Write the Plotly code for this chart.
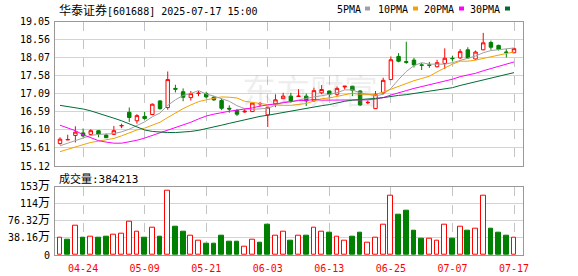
import plotly.graph_objects as go

# ---------------- data ----------------
dates = ["04-21","04-22","04-23","04-24","04-25","04-28","04-29","04-30",
         "05-06","05-07","05-08","05-09","05-12","05-13","05-14","05-15","05-16",
         "05-19","05-20","05-21","05-22","05-23","05-26","05-27","05-28","05-29","05-30",
         "06-03","06-04","06-05","06-06","06-09","06-10","06-11","06-12","06-13",
         "06-16","06-17","06-18","06-19","06-20","06-23","06-24","06-25","06-26","06-27","06-30",
         "07-01","07-02","07-03","07-04","07-07","07-08","07-09","07-10","07-11",
         "07-14","07-15","07-16","07-17"]

open_ = [15.73,15.83,15.95,16.02,15.98,16.08,15.96,15.98,16.21,16.58,
         16.35,16.47,16.52,16.89,16.71,17.23,17.14,16.98,17.09,17.09,
         16.99,16.90,16.69,16.63,16.59,16.60,16.81,16.51,16.81,16.95,
         17.02,17.01,17.02,16.89,17.11,17.16,17.07,17.27,17.29,17.16,
         16.84,16.68,17.11,17.47,18.10,17.96,18.00,17.87,17.87,17.82,
         17.91,18.05,18.06,18.28,18.03,18.28,18.48,18.40,18.22,18.20]
high = [15.90,15.97,16.20,16.14,16.12,16.10,16.00,16.21,16.27,16.71,
        16.53,16.59,16.82,16.91,17.69,17.33,17.23,17.16,17.16,17.14,
        17.02,16.96,16.77,16.67,16.66,16.84,16.86,16.73,17.07,17.11,
        17.11,17.21,17.09,17.25,17.32,17.17,17.28,17.29,17.30,17.18,
        16.90,17.16,17.52,18.10,18.19,18.50,18.06,17.92,17.95,18.01,
        18.32,18.12,18.30,18.35,18.26,18.74,18.53,18.42,18.30,18.33]
low = [15.70,15.82,15.76,15.90,15.96,15.90,15.88,15.96,16.15,16.32,
       16.27,16.38,16.50,16.65,16.65,17.12,16.88,16.90,17.02,16.96,
       16.89,16.64,16.57,16.48,16.57,16.59,16.73,16.18,16.72,16.94,
       16.84,17.00,16.75,16.87,17.07,16.98,17.02,17.20,17.02,16.75,
       16.80,16.67,17.07,17.47,17.94,17.90,17.80,17.73,17.79,17.80,
       17.76,17.97,18.03,18.03,18.01,18.27,18.28,18.26,18.07,18.19]
close = [15.85,15.84,16.04,15.94,16.08,15.99,15.89,16.08,16.22,16.44,
         16.49,16.41,16.80,16.68,17.47,17.21,16.99,17.09,17.10,17.00,
         16.92,16.69,16.67,16.53,16.61,16.83,16.82,16.72,16.92,17.02,
         16.89,17.02,16.89,17.17,17.20,17.07,17.23,17.29,17.18,16.78,
         16.85,17.07,17.45,18.01,17.97,17.94,17.87,17.86,17.86,17.93,
         18.05,18.04,18.23,18.06,18.22,18.47,18.35,18.29,18.21,18.31]

ma5 = [15.67,15.74,15.80,15.87,15.95,15.98,15.99,16.00,16.05,16.12,
       16.22,16.32,16.46,16.56,16.77,16.92,17.04,17.09,17.17,17.08,
       17.02,16.96,16.88,16.76,16.68,16.66,16.68,16.69,16.77,16.86,
       16.87,16.92,16.95,17.00,17.03,17.07,17.11,17.19,17.19,17.11,
       17.07,17.03,17.07,17.23,17.47,17.69,17.85,17.93,17.89,17.88,
       17.89,17.93,18.00,18.05,18.11,18.20,18.26,18.28,18.31,18.33]
ma10 = [15.51,15.58,15.65,15.70,15.76,15.80,15.83,15.87,15.94,16.03,
        16.10,16.15,16.23,16.31,16.44,16.57,16.68,16.78,16.87,16.92,
        16.97,17.00,16.99,16.97,16.88,16.84,16.82,16.79,16.77,16.77,
        16.77,16.80,16.82,16.89,16.95,16.97,17.01,17.07,17.10,17.07,
        17.07,17.07,17.13,17.21,17.29,17.38,17.44,17.50,17.56,17.68,
        17.79,17.89,17.97,17.97,18.00,18.05,18.10,18.14,18.18,18.22]
ma20 = [16.23,16.16,16.08,15.97,15.88,15.81,15.77,15.74,15.74,15.77,
        15.82,15.88,15.95,16.03,16.10,16.17,16.24,16.31,16.40,16.48,
        16.53,16.58,16.61,16.64,16.66,16.70,16.75,16.78,16.82,16.85,
        16.87,16.90,16.90,16.93,16.91,16.91,16.92,16.93,16.93,16.92,
        16.92,16.94,16.98,17.05,17.12,17.17,17.23,17.28,17.33,17.37,
        17.43,17.48,17.55,17.59,17.64,17.71,17.77,17.82,17.87,17.95]
ma30 = [16.77,16.74,16.71,16.67,16.62,16.56,16.49,16.42,16.35,16.27,
        16.18,16.10,16.06,16.04,16.03,16.03,16.04,16.06,16.09,16.13,
        16.18,16.23,16.28,16.33,16.38,16.43,16.47,16.50,16.54,16.58,
        16.61,16.65,16.68,16.72,16.76,16.79,16.84,16.88,16.91,16.92,
        16.93,16.96,16.98,17.02,17.04,17.06,17.09,17.12,17.14,17.17,
        17.21,17.25,17.31,17.36,17.41,17.47,17.52,17.57,17.61,17.66]

# volume in 万
volume = [39.5,33.5,66.3,38.0,41.7,38.0,40.2,46.2,48.4,75.2,
          51.4,38.0,61.8,40.2,143.0,62.5,51.4,43.9,31.3,24.6,
          24.6,42.4,29.0,29.0,19.4,35.0,26.8,67.0,43.9,51.4,
          31.3,43.9,42.4,61.8,51.4,49.1,41.7,32.8,40.2,49.1,
          28.3,39.5,68.5,131.8,89.4,98.3,53.6,35.7,35.7,32.8,
          68.5,35.7,64.0,53.6,59.6,131.8,58.1,49.1,42.4,38.42]

x_tick_labels = ["04-24","05-09","05-21","06-03","06-13","06-25","07-07","07-17"]
price_tick_labels = ["19.05","18.56","18.07","17.58","17.09","16.59","16.10","15.61","15.12"]
vol_tick_vals = [152.64, 114.48, 76.32, 38.16, 0]
vol_tick_labels = ["153万","114万","76.32万","38.16万","0"]
ma_names = ["5PMA","10PMA","20PMA","30PMA"]
title_name = "华泰证券"
title_rest = "[601688] 2025-07-17 15:00"
vol_title = "成交量:384213"

# ---------------- style ----------------
W, H = 578, 276
MONO = "DejaVu Sans Mono"
CJK = "Noto Sans CJK SC"
RED = "#ff0000"
GREEN = "#008000"
MA_COLORS = ["#a0a0a0", "#f2a200", "#ff00ff", "#006b35"]
FRAME = "#999999"
GRID = "#d4d4d4"
VGRID = "#c4c4c4"

def px(x):
    return x / W

def py(y):
    return 1 - y / H

X_DOM = [px(55), px(523)]
Y_MAIN = [py(166), py(21.5)]
Y_VOL = [py(255), py(186.7)]
XR = [-0.65, 60.17]

fig = go.Figure()

fig.add_trace(go.Candlestick(
    x=dates, open=open_, high=high, low=low, close=close,
    increasing=dict(line=dict(color=RED, width=1), fillcolor="#ffffff"),
    decreasing=dict(line=dict(color=GREEN, width=1), fillcolor=GREEN),
    whiskerwidth=0, xaxis="x", yaxis="y", hoverinfo="skip", showlegend=False))

for ma, col in zip([ma5, ma10, ma20, ma30], MA_COLORS):
    fig.add_trace(go.Scatter(x=dates, y=ma, mode="lines",
                             line=dict(color=col, width=1),
                             xaxis="x", yaxis="y", hoverinfo="skip", showlegend=False))

up = [True] + [close[i] >= close[i - 1] for i in range(1, len(close))]
fig.add_trace(go.Bar(
    x=dates, y=volume, width=0.62,
    marker=dict(color=["#ffffff" if u else GREEN for u in up],
                line=dict(color=[RED if u else GREEN for u in up], width=1)),
    xaxis="x2", yaxis="y2", hoverinfo="skip", showlegend=False))

def wrap_wan(s):
    return s.replace("万", '<span style="font-family:Noto Sans CJK SC;font-size:12px">万</span>')

common_x = dict(domain=X_DOM, range=XR, type="category", showgrid=True,
                gridcolor=VGRID, griddash="dash", gridwidth=1,
                tickvals=x_tick_labels, ticktext=x_tick_labels, ticks="",
                showline=True, mirror=True, linecolor=FRAME, linewidth=1,
                zeroline=False, fixedrange=True, automargin=False)

fig.update_layout(
    template="none",
    width=W, height=H,
    margin=dict(l=0, r=0, t=0, b=0, pad=0, autoexpand=False),
    paper_bgcolor="white", plot_bgcolor="white",
    boxgap=0.36, bargap=0,
    showlegend=False,
    xaxis=dict(common_x, anchor="y", showticklabels=False,
               rangeslider=dict(visible=False)),
    yaxis=dict(domain=Y_MAIN, range=[15.12, 19.05], anchor="x",
               tickvals=[float(v) for v in price_tick_labels], ticktext=price_tick_labels,
               tickfont=dict(family=MONO, size=10, color="#000000"),
               showgrid=True, gridcolor=GRID, gridwidth=1, ticks="",
               showline=True, mirror=True, linecolor=FRAME, linewidth=1,
               zeroline=False, fixedrange=True, ticklabelstandoff=2, automargin=False),
    xaxis2=dict(common_x, anchor="y2", showticklabels=True,
                tickfont=dict(family=MONO, size=10, color=RED),
                ticklabelstandoff=4),
    yaxis2=dict(domain=Y_VOL, range=[0, 152.64], anchor="x2",
                tickvals=vol_tick_vals, ticktext=[wrap_wan(s) for s in vol_tick_labels],
                tickfont=dict(family=MONO, size=10, color="#000000"),
                showgrid=True, gridcolor=GRID, gridwidth=1, ticks="",
                showline=True, mirror=True, linecolor=FRAME, linewidth=1,
                zeroline=False, fixedrange=True, ticklabelstandoff=2, automargin=False),
)

annotations = []
# watermark
annotations.append(dict(x=px(310), y=py(89), xref="paper", yref="paper",
                        text="东方财富", showarrow=False,
                        font=dict(family=CJK, size=34, color="rgba(150,150,150,0.16)"),
                        xanchor="center", yanchor="middle"))
# title
annotations.append(dict(x=px(56.5), y=py(9), xref="paper", yref="paper",
                        text=f'<span style="font-family:{CJK};font-size:12px">{title_name}</span>{title_rest}',
                        showarrow=False, font=dict(family=MONO, size=10, color="#000000"),
                        xanchor="left", yanchor="middle"))
# volume label
vt_cjk = vol_title.split(":")[0]
vt_rest = ":" + vol_title.split(":")[1]
annotations.append(dict(x=px(57), y=py(177.5), xref="paper", yref="paper",
                        text=f'<span style="font-family:{CJK};font-size:11px">{vt_cjk}</span>{vt_rest}',
                        showarrow=False, font=dict(family=MONO, size=11, color="#000000"),
                        xanchor="left", yanchor="middle"))

shapes = []
legend_text_right = [362.5, 409.5, 455.5, 502]
legend_box_left = [365, 413, 459, 505]
for name, tr, bl, col in zip(ma_names, legend_text_right, legend_box_left, MA_COLORS):
    annotations.append(dict(x=px(tr), y=py(9), xref="paper", yref="paper", text=name,
                            showarrow=False, font=dict(family=MONO, size=10, color="#000000"),
                            xanchor="right", yanchor="middle"))
    shapes.append(dict(type="rect", xref="paper", yref="paper",
                       x0=px(bl), x1=px(bl + 5), y0=py(10.5), y1=py(6.5),
                       fillcolor=col, line=dict(width=0)))

fig.update_layout(annotations=annotations, shapes=shapes)

fig.write_html("out.html")
